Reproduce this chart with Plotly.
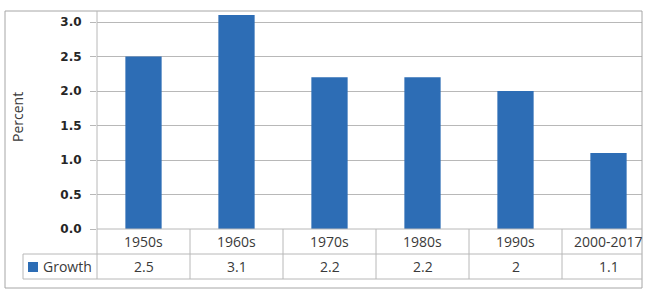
import plotly.graph_objects as go

categories = ["1950s", "1960s", "1970s", "1980s", "1990s", "2000-2017"]
growth = [2.5, 3.1, 2.2, 2.2, 2.0, 1.1]
series_name = "Growth"
y_title = "Percent"

W, H = 650, 296
ML, MR, MT, MB = 97, 8, 11, 67
PW, PH = W - ML - MR, H - MT - MB
AXIS_Y = H - MB  # pixel row of y=0


def px_x(p):
    return (p - ML) / PW


def px_y(p):
    return (AXIS_Y - p) / PH


BAR = "#2d6db5"
GRID = "#b8b8b8"
TXT = "#3a3a3a"
TFONT = dict(family="Open Sans", size=14, color=TXT)

fig = go.Figure()
fig.add_trace(go.Bar(x=categories, y=growth, marker=dict(color=BAR, line=dict(width=0)),
                     width=0.39, name=series_name, showlegend=False, hoverinfo="skip"))

shapes = []
row1 = px_y(254)
row2 = px_y(279)
# outer chart border
shapes.append(dict(type="rect", xref="paper", yref="paper", x0=px_x(5), x1=px_x(642),
                   y0=px_y(288), y1=px_y(11), line=dict(color="#a6a6a6", width=1)))
# vertical axis line (through table)
shapes.append(dict(type="line", xref="paper", yref="paper", x0=0, x1=0, y0=row2, y1=1,
                   line=dict(color=GRID, width=1)))
# category axis line
shapes.append(dict(type="line", xref="paper", yref="paper", x0=0, x1=1, y0=0, y1=0,
                   line=dict(color=GRID, width=1)))
# table horizontals
for yy in (row1, row2):
    shapes.append(dict(type="line", xref="paper", yref="paper", x0=px_x(23), x1=1, y0=yy, y1=yy,
                       line=dict(color=GRID, width=1)))
# legend cell left edge
shapes.append(dict(type="line", xref="paper", yref="paper", x0=px_x(23), x1=px_x(23), y0=row2, y1=row1,
                   line=dict(color=GRID, width=1)))
# table column separators
for i in range(len(categories) - 1):
    shapes.append(dict(type="line", xref="x", yref="paper", x0=i + 0.5, x1=i + 0.5, y0=row2, y1=0,
                       line=dict(color=GRID, width=1)))
# legend key
shapes.append(dict(type="rect", xref="paper", yref="paper", x0=px_x(28), x1=px_x(38),
                   y0=px_y(272), y1=px_y(262), fillcolor=BAR, line=dict(width=0)))

annotations = []
for c, v in zip(categories, growth):
    annotations.append(dict(x=c, xref="x", y=px_y(241.5), yref="paper", text=c, showarrow=False,
                            xanchor="center", yanchor="middle", font=TFONT))
    annotations.append(dict(x=c, xref="x", y=px_y(266.5), yref="paper", text=f"{v:g}", showarrow=False,
                            xanchor="center", yanchor="middle", font=TFONT))
annotations.append(dict(x=px_x(41), xref="paper", y=px_y(266.5), yref="paper", text=series_name,
                        showarrow=False, xanchor="left", yanchor="middle", font=TFONT))
annotations.append(dict(x=px_x(17), xref="paper", y=px_y(117), yref="paper", text=y_title,
                        showarrow=False, textangle=-90, xanchor="center", yanchor="middle",
                        font=dict(family="Open Sans", size=14, color=TXT)))

fig.update_layout(
    width=W, height=H, autosize=False,
    margin=dict(l=ML, r=MR, t=MT, b=MB, pad=0),
    paper_bgcolor="white", plot_bgcolor="white",
    bargap=0.61, hovermode=False,
    xaxis=dict(type="category", range=[-0.5, -0.5 + PW / 93.0], showticklabels=False,
               showgrid=False, zeroline=False, showline=False, ticks=""),
    yaxis=dict(range=[0, (AXIS_Y - MT) / 69.0], tickmode="array",
               tickvals=[0, 0.5, 1.0, 1.5, 2.0, 2.5, 3.0], tickformat=".1f",
               showgrid=True, gridcolor=GRID, gridwidth=1, zeroline=False, showline=False,
               ticks="outside", ticklen=6, tickcolor=GRID, ticklabelstandoff=6,
               tickfont=dict(family="DejaVu Sans", size=12, color="#262626", weight="bold")),
    shapes=shapes, annotations=annotations,
)

fig.write_html("out.html", config={"displayModeBar": False},
               post_script="document.body.style.margin='0';document.body.style.overflow='hidden';")
